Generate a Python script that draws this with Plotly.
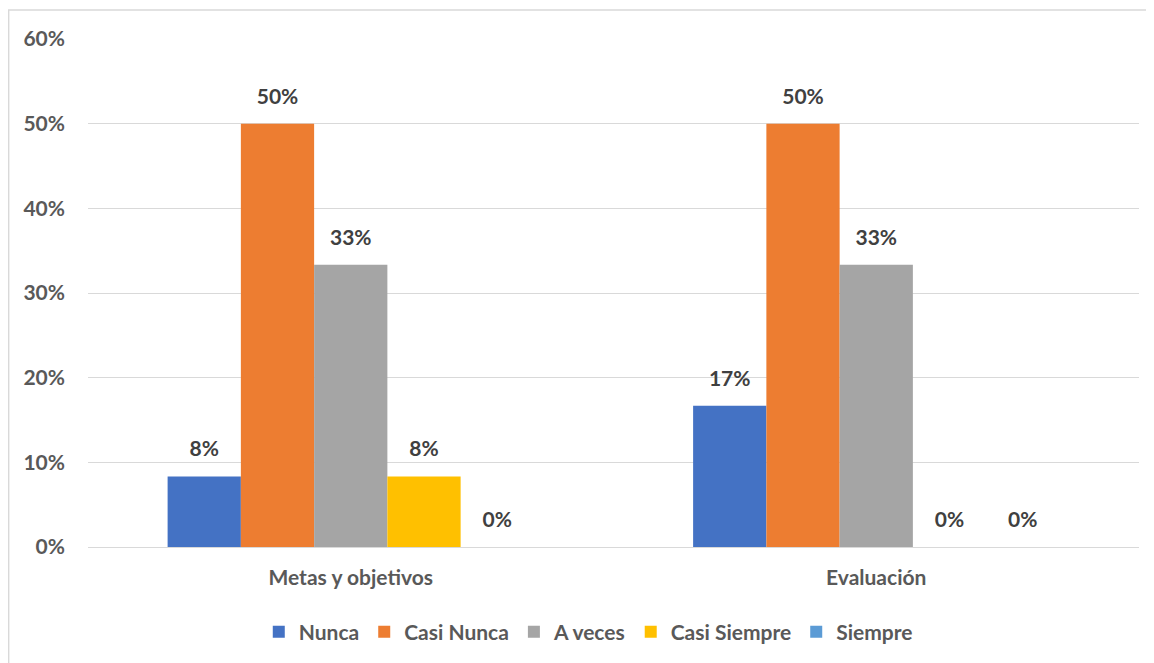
import plotly.graph_objects as go

# datos
categorias = ["Metas y objetivos", "Evaluación"]
series = ["Nunca", "Casi Nunca", "A veces", "Casi Siempre", "Siempre"]
valores = {
    "Nunca": [0.0833, 0.1667],
    "Casi Nunca": [0.50, 0.50],
    "A veces": [0.3333, 0.3333],
    "Casi Siempre": [0.0833, 0.0],
    "Siempre": [0.0, 0.0],
}
colores = ["#4472C4", "#ED7D31", "#A5A5A5", "#FFC000", "#5B9BD5"]
ticks = [0, 0.1, 0.2, 0.3, 0.4, 0.5, 0.6]

fuente = "Lato"
gris = "#595959"

fig = go.Figure()
for s, c in zip(series, colores):
    fig.add_trace(go.Bar(
        x=categorias,
        y=valores[s],
        name=s,
        marker=dict(color=c, line=dict(width=0)),
    ))

# etiquetas de datos (alineadas con las barras)
for s in series:
    fig.add_trace(go.Scatter(
        x=categorias,
        y=valores[s],
        mode="markers+text",
        marker=dict(size=22, opacity=0),
        text=[f"{v:.0%}" for v in valores[s]],
        textposition="top center",
        textfont=dict(family=fuente, size=21, color="#404040", weight="bold"),
        showlegend=False,
        hoverinfo="skip",
        cliponaxis=False,
    ))

fig.update_layout(
    barmode="group",
    bargap=0.303,
    bargroupgap=0,
    scattermode="group",
    scattergap=0.303,
    width=1146,
    height=655,
    margin=dict(l=80, r=15, t=31, b=115),
    paper_bgcolor="white",
    plot_bgcolor="white",
    font=dict(family=fuente, color=gris),
    legend=dict(
        orientation="h",
        x=0.476, xanchor="center",
        y=-0.165, yanchor="middle",
        font=dict(size=21, color=gris, weight="bold"),
        itemwidth=30,
        traceorder="normal",
    ),
)
fig.update_yaxes(
    range=[0, 0.6],
    tickvals=ticks,
    ticktext=[f"{t:.0%}" for t in ticks],
    showgrid=True,
    gridcolor="#d9d9d9",
    gridwidth=1,
    zeroline=False,
    showline=False,
    ticks="",
    ticklabelstandoff=22,
    tickfont=dict(size=21, color=gris, weight="bold"),
)
fig.update_xaxes(
    showline=True,
    linecolor="#d9d9d9",
    linewidth=1,
    ticks="",
    ticklabelstandoff=12,
    tickfont=dict(size=21, color=gris, weight="bold"),
)

# borde del gráfico
fig.add_shape(
    type="rect", xref="paper", yref="paper",
    x0=-0.0755, x1=1.05, y0=-0.4, y1=1.057,
    line=dict(color="#d9d9d9", width=1.5),
    fillcolor="rgba(0,0,0,0)",
    layer="below",
)

fig.write_html("out.html")
